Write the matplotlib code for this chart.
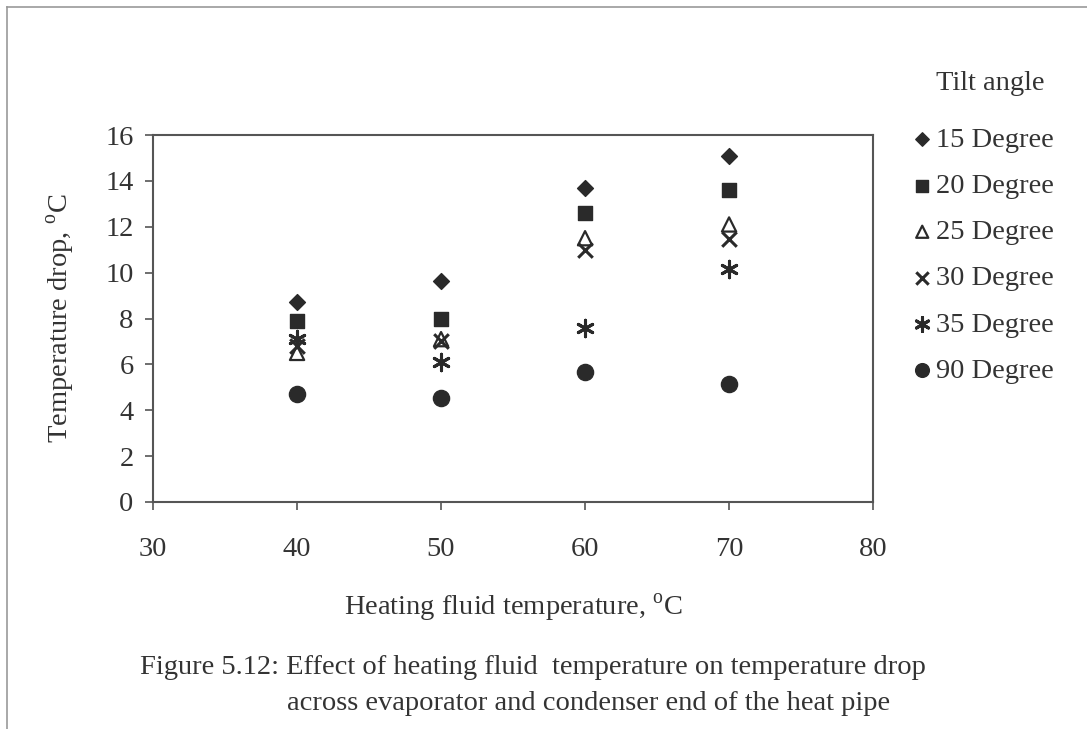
import matplotlib
matplotlib.use('Agg')
import matplotlib.pyplot as plt
from matplotlib.lines import Line2D

plt.rcParams['font.family'] = ['Liberation Serif', 'DejaVu Serif']
plt.rcParams['mathtext.fontset'] = 'custom'
plt.rcParams['mathtext.rm'] = 'Liberation Serif'

# heating fluid temperature (x) and temperature drop per tilt angle
heating_temp = [40, 50, 60, 70]
drop_15 = [8.7, 9.65, 13.7, 15.1]
drop_20 = [7.9, 8.0, 12.6, 13.6]
drop_25 = [6.5, 7.1, 11.5, 12.1]
drop_30 = [6.8, 7.0, 11.0, 11.45]
drop_35 = [7.1, 6.1, 7.6, 10.15]
drop_90 = [4.7, 4.55, 5.65, 5.15]

labels = ['15 Degree', '20 Degree', '25 Degree', '30 Degree', '35 Degree', '90 Degree']
xticks = [30, 40, 50, 60, 70, 80]
yticks = [0, 2, 4, 6, 8, 10, 12, 14, 16]

ink = '#2a2a2a'
text_col = '#333333'
fs = 20.5

fig = plt.figure(figsize=(10.87, 7.29), dpi=100)
ax = fig.add_axes([0.1408, 0.3114, 0.6624, 0.5034])

series = [drop_15, drop_20, drop_25, drop_30, drop_35, drop_90]
styles = [
    dict(marker='D', s=65, color=ink),
    dict(marker='s', s=105, color=ink),
    dict(marker='^', s=105, facecolor='none', edgecolor=ink, linewidths=1.6),
    dict(marker='x', s=110, color=ink, linewidths=2.2),
    dict(marker=(6, 2, 0), s=140, color=ink, linewidths=2.2),
    dict(marker='o', s=135, color=ink),
]
handles = []
for vals, st, lab in zip(series, styles, labels):
    h = ax.scatter(heating_temp, vals, label=lab, zorder=3, **st)
    handles.append(h)

ax.set_xlim(30, 80)
ax.set_ylim(0, 16)
ax.set_xticks(xticks)
ax.set_yticks(yticks)
ax.tick_params(axis='both', direction='out', length=6, width=1.2, colors='#555555',
               labelsize=fs, labelcolor=text_col)
ax.tick_params(axis='x', pad=19)
ax.tick_params(axis='y', pad=8)
for sp in ax.spines.values():
    sp.set_color('#555555')
    sp.set_linewidth(1.5)

ax.set_xlabel('Heating fluid temperature, $^{\\mathrm{o}}$C', fontsize=fs,
              color=text_col, labelpad=22)
ax.set_ylabel('Temperature drop, $^{\\mathrm{o}}$C', fontsize=fs,
              color=text_col, labelpad=20)

fig.text(990 / 1087, 1 - 84 / 729, 'Tilt angle', fontsize=fs, color=text_col,
         ha='center', va='center')
leg = fig.legend(handles=handles, labels=labels, loc='upper left',
                 bbox_to_anchor=(908 / 1087, 1 - 127 / 729), frameon=False, fontsize=fs,
                 handletextpad=0.0, borderpad=0.0, borderaxespad=0.0,
                 labelspacing=0.71, handlelength=1.0, markerscale=0.85)
for t in leg.get_texts():
    t.set_color(text_col)

fig.text(140 / 1087, 1 - 667 / 729,
         'Figure 5.12: Effect of heating fluid  temperature on temperature drop',
         fontsize=fs, color=text_col, ha='left', va='center')
fig.text(287 / 1087, 1 - 703 / 729,
         'across evaporator and condenser end of the heat pipe',
         fontsize=fs, color=text_col, ha='left', va='center')

# scanned page border
fig.add_artist(Line2D([0.0065, 0.0065], [0.0, 0.99], transform=fig.transFigure,
                      color='#999999', linewidth=1.2))
fig.add_artist(Line2D([0.0065, 1.0], [0.99, 0.99], transform=fig.transFigure,
                      color='#999999', linewidth=1.2))

fig.savefig('out.png', dpi=100)
